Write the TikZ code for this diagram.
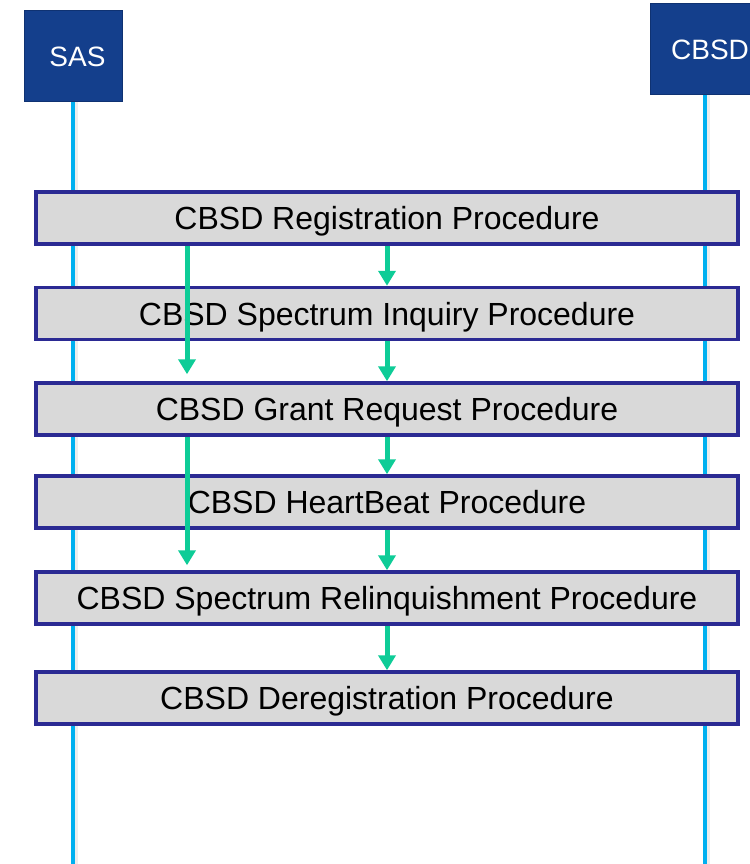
\documentclass[tikz,border=0pt]{standalone}
\usepackage{fontspec}
\setmainfont{Liberation Sans}
\usetikzlibrary{arrows.meta}
\definecolor{sasblue}{HTML}{143F8C}
\definecolor{sasedge}{HTML}{0F3272}
\definecolor{lifeblue}{HTML}{00B0F0}
\definecolor{procfill}{HTML}{D9D9D9}
\definecolor{procedge}{HTML}{2B2A93}
\definecolor{flowgreen}{HTML}{0ECC97}
\tikzset{
  entity/.style={draw=sasedge, line width=1pt, fill=sasblue, text=white, inner sep=0pt,
    font=\fontsize{28}{32}\selectfont},
  life/.style={draw=lifeblue, line width=4.5pt},
  lifeshadow/.style={draw=black!7, line width=3pt},
  proc/.style={draw=procedge, fill=procfill, line width=3.5pt, minimum width=702pt,
    minimum height=52pt, inner sep=0pt, text height=23pt, text depth=0pt,
    font=\fontsize{32}{36}\selectfont},
  flow/.style={draw=flowgreen, line width=5pt, -{Triangle[length=15pt,width=17pt]}}
}
\begin{document}
\begin{tikzpicture}[x=1pt,y=-1pt]
\useasboundingbox (0,0) rectangle (749,864);
\fill[white] (0,0) rectangle (749,864);
\coordinate (bottom) at (0,866);
% entities
\node[entity, minimum width=98pt, minimum height=91pt] (sas) at (73,56.5) {\hspace{9pt}SAS};
\node[entity, minimum width=120pt, minimum height=91pt] (cbsd) at (710,49.5) {CBSD};
\coordinate (cbsdl) at ([xshift=-5pt]cbsd.south);
% lifelines
\draw[lifeshadow] ([xshift=3pt]sas.south) -- ([xshift=3pt]sas.south |- bottom);
\draw[lifeshadow] ([xshift=3pt]cbsdl) -- ([xshift=3pt]cbsdl |- bottom);
\draw[life] (sas.south) -- (sas.south |- bottom);
\draw[life] (cbsdl) -- (cbsdl |- bottom);
% procedures
\node[proc] (reg) at (387,218) {CBSD Registration Procedure};
\node[proc] (inq) at (387,313.5) {CBSD Spectrum Inquiry Procedure};
\node[proc] (grant) at (387,409) {CBSD Grant Request Procedure};
\node[proc] (hb) at (387,502) {CBSD HeartBeat Procedure};
\node[proc] (rel) at (387,598) {CBSD Spectrum Relinquishment Procedure};
\node[proc] (dereg) at (387,698) {CBSD Deregistration Procedure};
% flows
\draw[flow] (reg.south) -- (inq.north);
\draw[flow] (inq.south) -- (grant.north);
\draw[flow] (grant.south) -- (hb.north);
\draw[flow] (hb.south) -- (rel.north);
\draw[flow] (rel.south) -- (dereg.north);
\draw[flow, shorten >=7pt] ([xshift=-200pt]reg.south) -- ([xshift=-200pt]grant.north);
\draw[flow, shorten >=5pt] ([xshift=-200pt]grant.south) -- ([xshift=-200pt]rel.north);
\end{tikzpicture}
\end{document}
